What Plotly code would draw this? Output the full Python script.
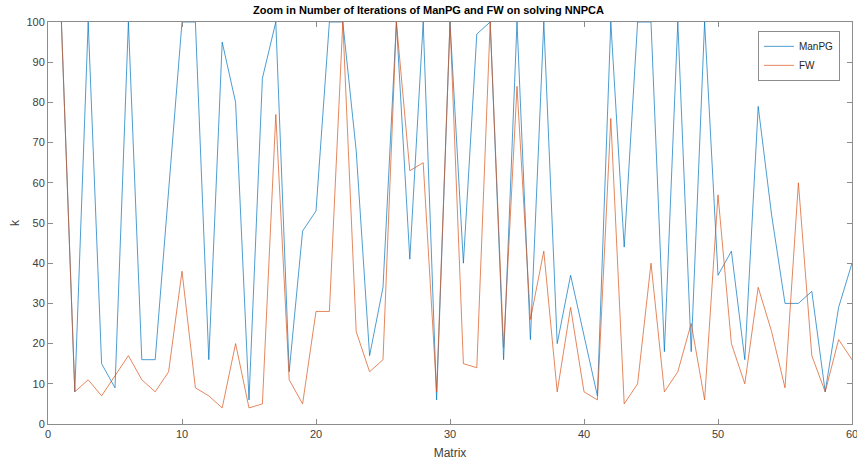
import plotly.graph_objects as go

matrix = list(range(1, 61))
manpg = [100, 8, 100, 15, 9, 100, 16, 16, 58, 100,
         100, 16, 95, 80, 6, 86, 100, 13, 48, 53,
         100, 100, 68, 17, 34, 100, 41, 100, 6, 100,
         40, 97, 100, 16, 100, 21, 100, 20, 37, 22,
         7, 100, 44, 100, 100, 18, 100, 18, 100, 37,
         43, 16, 79, 52, 30, 30, 33, 8, 29, 40]
fw = [100, 8, 11, 7, 12, 17, 11, 8, 13, 38,
      9, 7, 4, 20, 4, 5, 77, 11, 5, 28,
      28, 100, 23, 13, 16, 100, 63, 65, 8, 100,
      15, 14, 100, 19, 84, 26, 43, 8, 29, 8,
      6, 76, 5, 10, 40, 8, 13, 25, 6, 57,
      20, 10, 34, 23, 9, 60, 17, 8, 21, 16]
x_ticks = [0, 10, 20, 30, 40, 50, 60]
y_ticks = [0, 10, 20, 30, 40, 50, 60, 70, 80, 90, 100]

fig = go.Figure()
fig.add_trace(go.Scatter(x=matrix, y=manpg, mode="lines", name="ManPG",
                         line=dict(color="#0072BD", width=0.7)))
fig.add_trace(go.Scatter(x=matrix, y=fw, mode="lines", name="FW",
                         line=dict(color="#D95319", width=0.7)))

axis_common = dict(showgrid=False, zeroline=False, showline=True, linecolor="#8c8c8c",
                   linewidth=1, mirror="allticks", ticks="inside", ticklen=5,
                   tickcolor="#8c8c8c", ticklabeloverflow="allow", automargin=False,
                   tickfont=dict(family="Liberation Sans, Arial", size=11, color="#404040"))

fig.update_layout(
    width=857, height=460,
    margin=dict(l=48, r=5, t=22, b=36),
    paper_bgcolor="white", plot_bgcolor="white",
    title=dict(text="<b>Zoom in Number of Iterations of ManPG and FW on solving NNPCA</b>",
               x=0.5, xanchor="center", y=0.977, yanchor="middle",
               font=dict(family="Liberation Sans, Arial", size=11, color="black")),
    xaxis=dict(range=[0, 60], tickvals=x_ticks,
               title=dict(text="Matrix",
                          font=dict(family="Liberation Sans, Arial", size=12, color="#404040")),
               **axis_common),
    yaxis=dict(range=[0, 100], tickvals=y_ticks, **axis_common),
    legend=dict(x=0.985, y=0.978, xanchor="right", yanchor="top",
                bgcolor="white", bordercolor="#8c8c8c", borderwidth=1,
                font=dict(family="Liberation Sans, Arial", size=10, color="#262626"),
                tracegroupgap=0, itemwidth=30),
    showlegend=True,
    annotations=[dict(text="k", xref="paper", yref="paper", x=-0.041, y=0.5,
                      xanchor="center", yanchor="middle", textangle=-90, showarrow=False,
                      font=dict(family="Liberation Sans, Arial", size=12, color="#404040"))],
)

fig.write_html("out.html")
